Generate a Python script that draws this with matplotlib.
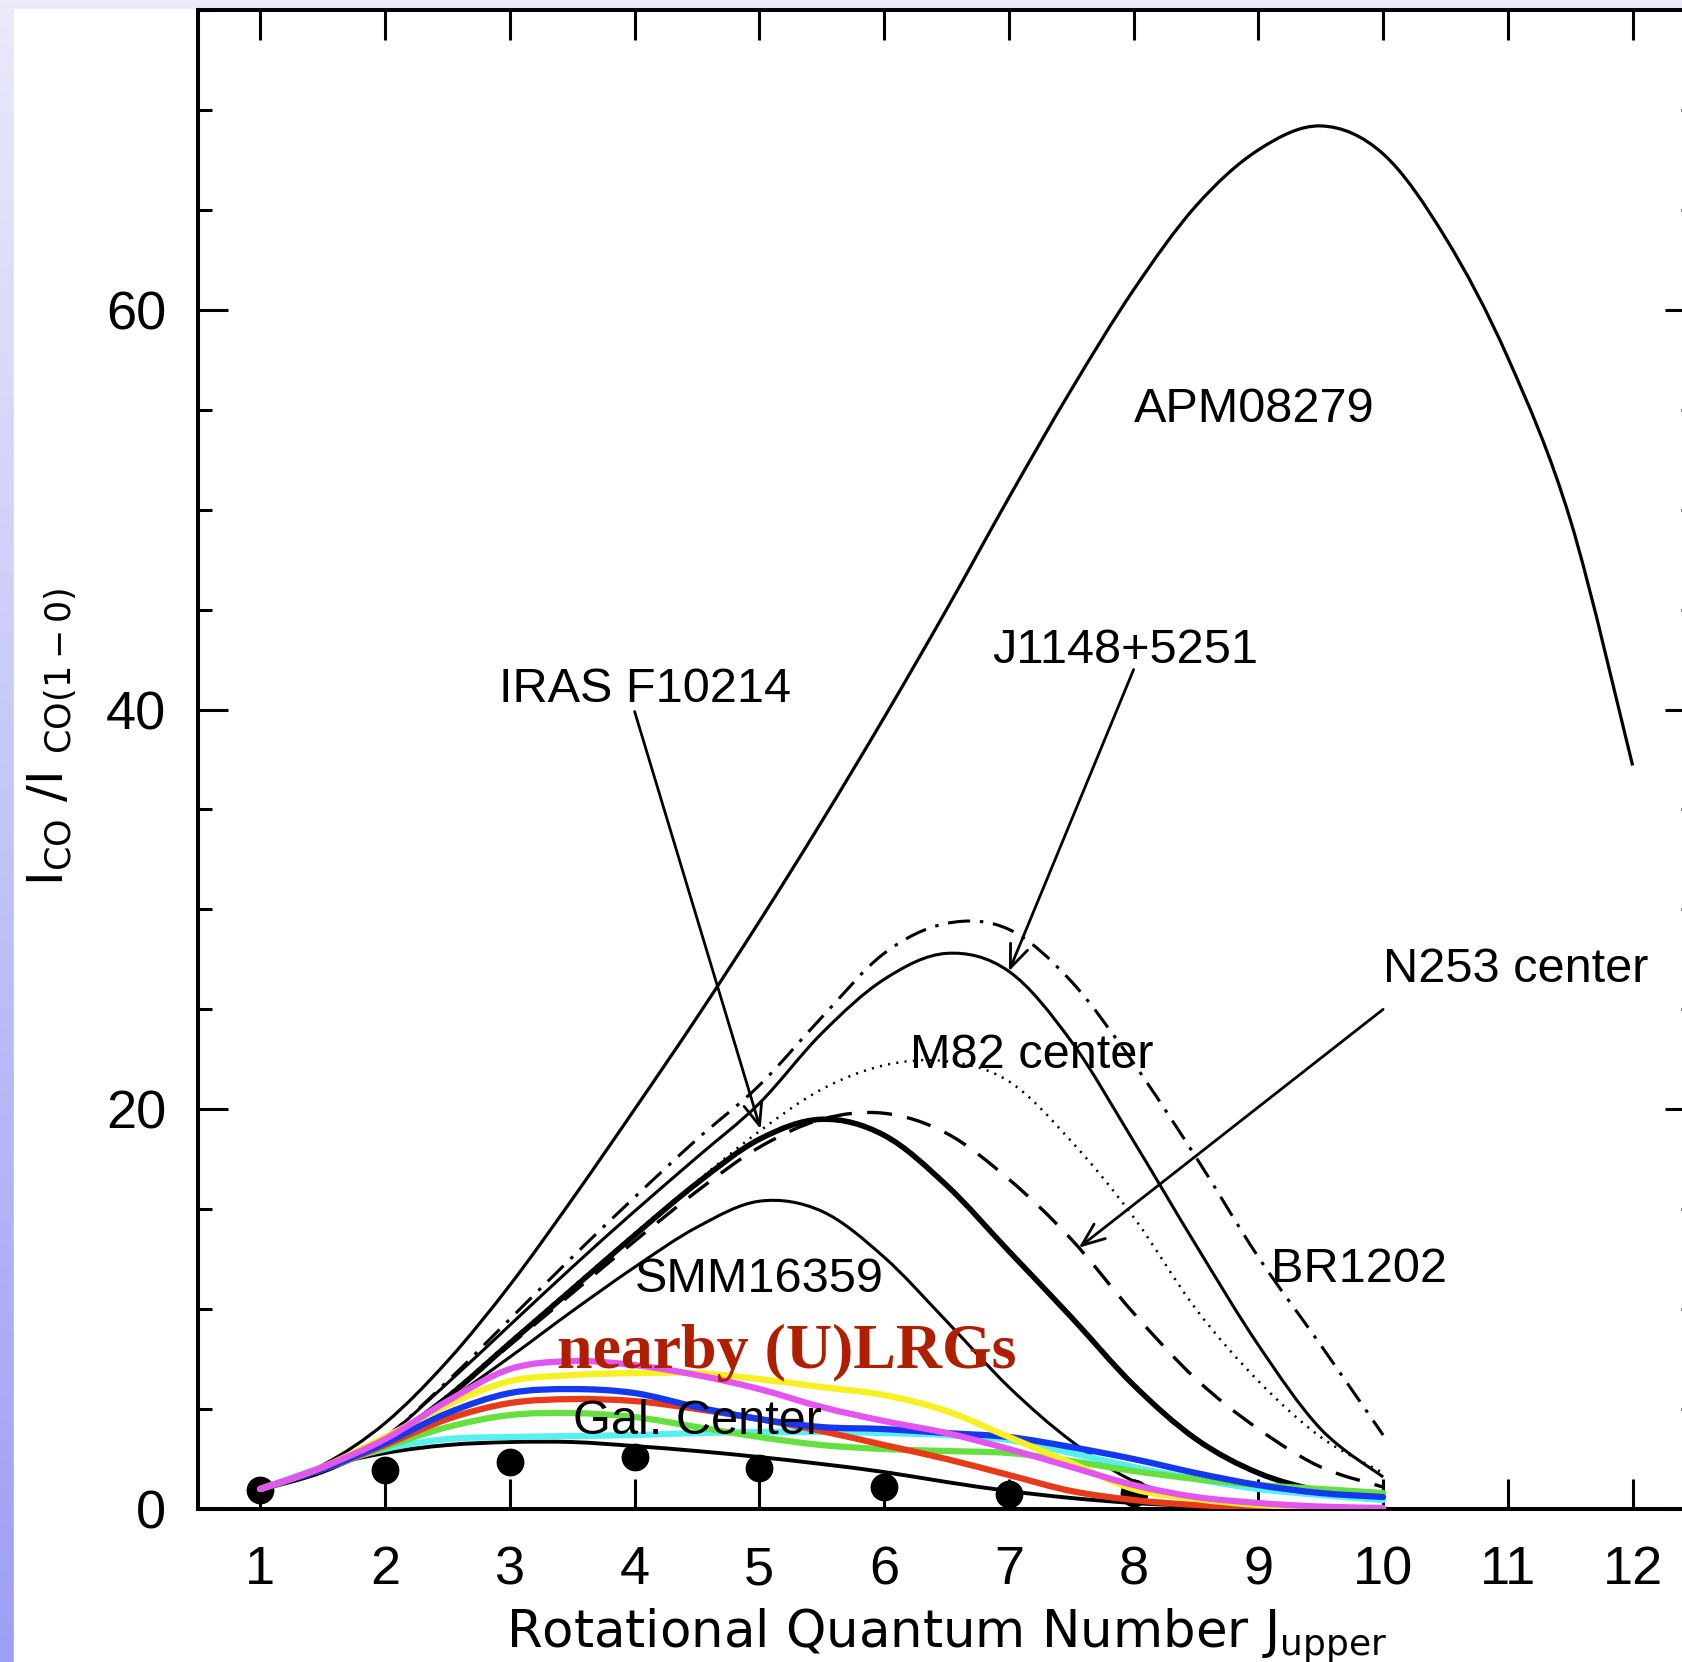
import matplotlib.pyplot as plt
import numpy as np
from matplotlib.ticker import MultipleLocator
from matplotlib.patches import Rectangle, PathPatch
from matplotlib.path import Path

plt.rcParams['font.family'] = 'Liberation Sans'
plt.rcParams['mathtext.fontset'] = 'dejavusans'
plt.rcParams['lines.scale_dashes'] = False

# J_upper, model curves sampled every half step
j_model = [1.0, 1.5, 2.0, 2.5, 3.0, 3.5, 4.0, 4.5, 5.0, 5.5,
           6.0, 6.5, 7.0, 7.5, 8.0, 8.5, 9.0, 9.5, 10.0]
j_apm = j_model + [10.5, 11.0, 11.5, 12.0]

# high-z sources (I_CO / I_CO(1-0))
apm08279 = [1.0, 2.2, 4.3, 7.4, 11.2, 15.5, 20.0, 24.6, 29.4, 34.4, 39.6, 45.0,
            50.6, 56.0, 61.0, 65.2, 68.0, 69.2, 67.8, 63.6, 57.6, 49.5, 37.2]
j1148 = [1.0, 2.0, 3.6, 6.3, 9.2, 12.1, 14.9, 17.6, 20.3, 23.8,
         26.5, 27.8, 26.9, 23.4, 18.4, 13.2, 8.2, 4.0, 1.6]
br1202 = [1.0, 2.0, 3.6, 6.4, 9.5, 12.6, 15.6, 18.5, 21.2, 24.6,
          27.8, 29.3, 29.0, 26.4, 22.3, 17.6, 12.6, 8.2, 3.7]
iras_f10214 = [1.0, 1.9, 3.4, 5.6, 8.3, 11.0, 13.7, 16.3, 18.5, 19.5,
               18.7, 16.2, 12.9, 9.6, 6.2, 3.5, 1.8, 0.9, 0.5]
n253_center = [1.0, 1.9, 3.4, 5.6, 8.2, 10.8, 13.4, 15.9, 18.1, 19.5,
               19.8, 18.8, 16.5, 13.5, 9.8, 6.5, 4.0, 2.1, 1.1]
m82_center = [1.0, 1.9, 3.4, 5.7, 8.4, 11.1, 13.8, 16.4, 18.9, 21.0,
              22.2, 22.4, 21.4, 18.4, 14.6, 10.0, 6.4, 3.6, 1.8]
smm16359 = [1.0, 1.9, 3.3, 5.4, 7.6, 9.9, 12.1, 14.1, 15.4, 14.9,
            12.6, 9.4, 6.1, 3.4, 1.4, 0.6, 0.3, 0.15, 0.1]
gal_center = [1.0, 2.1, 2.8, 3.2, 3.35, 3.35, 3.15, 2.9, 2.6, 2.25,
              1.85, 1.35, 0.9, 0.55, 0.3, 0.15, 0.08, 0.05, 0.03]

# Galactic Center measurements
j_obs = [1, 2, 3, 4, 5, 6, 7, 8]
gal_center_obs = [0.95, 1.95, 2.35, 2.6, 2.05, 1.1, 0.75, 0.8]

# nearby (U)LIRGs
lirg_cyan = [1.0, 2.1, 3.0, 3.5, 3.6, 3.65, 3.7, 3.8, 3.85, 3.85,
             3.8, 3.7, 3.45, 2.8, 2.1, 1.5, 1.0, 0.7, 0.45]
lirg_green = [1.0, 2.0, 3.1, 4.1, 4.7, 4.8, 4.6, 4.1, 3.6, 3.2,
              3.0, 2.9, 2.8, 2.4, 1.9, 1.5, 1.2, 1.0, 0.8]
lirg_red = [1.0, 2.0, 3.2, 4.5, 5.3, 5.5, 5.4, 5.0, 4.5, 3.9,
            3.2, 2.5, 1.7, 0.9, 0.45, 0.2, 0.1, 0.05, 0.02]
lirg_blue = [1.0, 2.0, 3.3, 4.8, 5.8, 6.0, 5.8, 5.1, 4.5, 4.1,
             4.0, 3.8, 3.6, 3.1, 2.5, 1.8, 1.2, 0.8, 0.6]
lirg_yellow = [1.0, 2.1, 3.6, 5.2, 6.4, 6.7, 6.8, 6.8, 6.5, 6.1,
               5.7, 4.9, 3.6, 2.3, 1.0, 0.5, 0.2, 0.1, 0.05]
lirg_magenta = [1.0, 2.1, 3.5, 5.4, 7.0, 7.4, 7.2, 6.7, 6.0, 5.1,
                4.4, 3.8, 3.0, 2.1, 1.2, 0.6, 0.3, 0.12, 0.05]


def smooth_curve(ax, x, y, **kw):
    # Catmull-Rom through the sampled points, drawn as cubic Bezier segments
    p = np.column_stack([x, y]).astype(float)
    verts, codes = [p[0]], [Path.MOVETO]
    for i in range(len(p) - 1):
        p0 = p[i - 1] if i > 0 else p[i]
        p3 = p[i + 2] if i + 2 < len(p) else p[i + 1]
        verts += [p[i] + (p[i + 1] - p0) / 6, p[i + 1] - (p3 - p[i]) / 6, p[i + 1]]
        codes += [Path.CURVE4] * 3
    ax.add_patch(PathPatch(Path(verts, codes), fill=False, **kw))


W, H = 1682, 1662
fig = plt.figure(figsize=(W / 100, H / 100), dpi=100)

# lavender slide frame on the left and top
bg = fig.add_axes([0, 0, 1, 1], zorder=-10)
bg.set_axis_off()
t = np.linspace(0, 1, 256)[:, None, None]
c_top = np.array([234, 234, 250]) / 255
c_bot = np.array([158, 158, 246]) / 255
bg.imshow(c_top + t * (c_bot - c_top), aspect='auto', extent=[0, 1, 0, 1], origin='upper')
bg.add_patch(Rectangle((14 / W, 0), 1, 1 - 9 / H, color='white', transform=bg.transAxes))
bg.set_xlim(0, 1)
bg.set_ylim(0, 1)

ax = fig.add_axes([198 / W, (H - 1509) / H, (1695 - 198) / W, 1499 / H])

# model curves
smooth_curve(ax, j_apm, apm08279, edgecolor='black', lw=2.3)
smooth_curve(ax, j_model, br1202, edgecolor='black', lw=2.2, linestyle=(0, (16, 7, 2.5, 7)))
smooth_curve(ax, j_model, j1148, edgecolor='black', lw=2.2)
smooth_curve(ax, j_model, m82_center, edgecolor='black', lw=1.8, linestyle=(0, (1.5, 4.5)))
smooth_curve(ax, j_model, n253_center, edgecolor='black', lw=2.4, linestyle=(0, (18, 11)))
smooth_curve(ax, j_model, iras_f10214, edgecolor='black', lw=4.0)
smooth_curve(ax, j_model, smm16359, edgecolor='black', lw=2.2)
smooth_curve(ax, j_model, gal_center, edgecolor='black', lw=2.8)
ax.plot(j_obs, gal_center_obs, 'o', color='black', ms=19, zorder=3)

for vals, col in [(lirg_cyan, '#55f0f0'), (lirg_green, '#66e040'), (lirg_red, '#e83a18'),
                  (lirg_blue, '#1438f0'), (lirg_yellow, '#f8f020'), (lirg_magenta, '#e455f0')]:
    smooth_curve(ax, j_model, vals, edgecolor=col, lw=4.5, zorder=4, capstyle='round')

ax.set_xlim(0.5, 12.5)
ax.set_ylim(0, 75)

# labels and arrows
lab = dict(fontsize=35, va='center', ha='left', zorder=6)
ax.text(8.0, 55.0, 'APM08279', **lab)
ax.text(6.87, 42.95, 'J1148+5251', **lab)
ax.text(2.91, 41.0, 'IRAS F10214', **lab)
ax.text(6.21, 22.7, 'M82 center', **lab)
ax.text(10.0, 27.0, 'N253 center', **lab)
ax.text(4.0, 11.5, 'SMM16359', **lab)
ax.text(9.1, 12.0, 'BR1202', **lab)
ax.text(3.51, 4.4, 'Gal. Center', **lab)
ax.text(3.38, 7.8, 'nearby (U)LRGs', fontsize=46, fontweight='bold', family='Liberation Serif',
        color='#b01e00', va='center', ha='left', zorder=6)

arrow = dict(arrowstyle='->,head_length=0.55,head_width=0.22', color='black', lw=2.0,
             shrinkA=0, shrinkB=0, mutation_scale=30)
ax.annotate('', xy=(7.0, 26.9), xytext=(8.0, 42.0), arrowprops=arrow)
ax.annotate('', xy=(5.01, 19.0), xytext=(4.0, 39.9), arrowprops=arrow)
ax.annotate('', xy=(7.56, 13.07), xytext=(10.0, 25.0), arrowprops=arrow)

# axes styling
ax.set_xticks(range(1, 13))
ax.set_yticks([0, 20, 40, 60])
ax.yaxis.set_minor_locator(MultipleLocator(5))
ax.tick_params(which='both', direction='in', top=True, right=True, width=2.2)
ax.tick_params(which='major', length=21.5)
ax.tick_params(which='minor', length=10)
ax.tick_params(axis='x', pad=26, labelsize=39)
ax.tick_params(axis='y', pad=23, labelsize=39)
for s in ax.spines.values():
    s.set_linewidth(2.9)

ax.text(0.5, -0.0918, 'Rotational Quantum Number J$_{\\rm upper}$', transform=ax.transAxes,
        ha='center', va='baseline', fontsize=37, family='DejaVu Sans')
ax.text(-0.097, 0.515, 'I$_{\\rm CO}$ /I $_{\\rm CO(1-0)}$', transform=ax.transAxes,
        rotation=90, ha='center', va='center', fontsize=36, family='DejaVu Sans')

fig.savefig('out.png', dpi=100)
